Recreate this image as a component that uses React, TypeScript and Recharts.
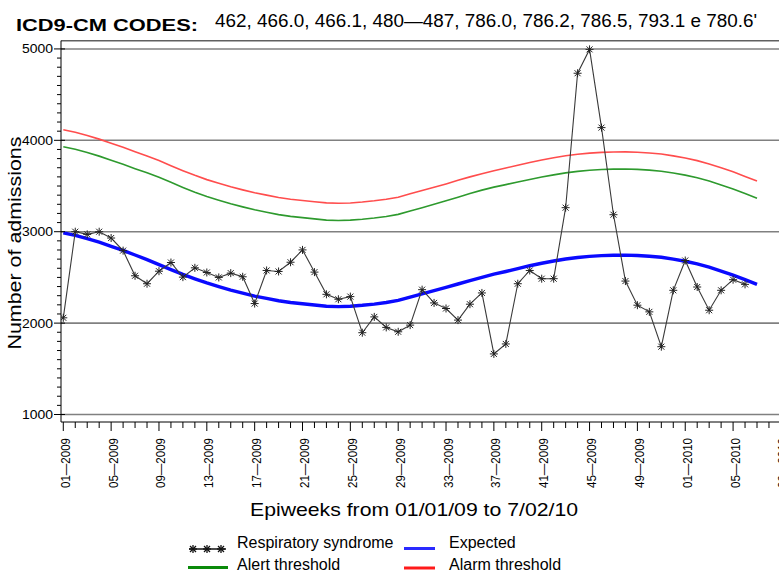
import React from 'react';
import { LineChart, Line, XAxis, YAxis, ReferenceLine } from 'recharts';

// Epiweek index (0 = 01-2009)
const respiratory = [
  2058, 3000, 2971, 3000, 2931, 2793, 2518, 2431, 2568, 2663,
  2503, 2605, 2554, 2500, 2547, 2507, 2214, 2576, 2565, 2666,
  2801, 2558, 2315, 2261, 2290, 1895, 2068, 1953, 1905, 1978,
  2366, 2221, 2160, 2033, 2207, 2330, 1663, 1772, 2431, 2576,
  2486, 2486, 3263, 4734, 4995, 4139, 3186, 2460, 2196, 2123,
  1742, 2359, 2685, 2395, 2141, 2359, 2475, 2424,
];

const expected = [
  2988, 2960, 2925, 2885, 2840, 2795, 2745, 2695, 2640, 2585,
  2533, 2485, 2440, 2400, 2362, 2328, 2296, 2270, 2245, 2226,
  2212, 2198, 2185, 2180, 2185, 2195, 2208, 2225, 2248, 2285,
  2320, 2355, 2390, 2428, 2465, 2500, 2535, 2565, 2597, 2628,
  2655, 2680, 2702, 2718, 2730, 2738, 2743, 2744, 2740, 2732,
  2720, 2700, 2677, 2648, 2612, 2570, 2525, 2475, 2424,
];

const alertThreshold = [
  3930, 3902, 3867, 3827, 3782, 3737, 3690, 3645, 3595, 3540,
  3485, 3432, 3385, 3345, 3306, 3272, 3240, 3212, 3187, 3168,
  3154, 3140, 3127, 3122, 3127, 3137, 3150, 3167, 3190, 3227,
  3262, 3300, 3338, 3378, 3418, 3455, 3488, 3515, 3545, 3572,
  3598, 3622, 3644, 3660, 3672, 3680, 3685, 3686, 3682, 3674,
  3662, 3642, 3619, 3590, 3554, 3512, 3467, 3417, 3366,
];

const alarmThreshold = [
  4115, 4088, 4053, 4013, 3968, 3923, 3875, 3828, 3778, 3722,
  3668, 3617, 3570, 3530, 3492, 3458, 3426, 3400, 3375, 3356,
  3342, 3328, 3316, 3311, 3315, 3325, 3338, 3355, 3378, 3415,
  3450, 3487, 3523, 3562, 3600, 3635, 3668, 3697, 3728, 3758,
  3785, 3810, 3832, 3848, 3860, 3868, 3873, 3874, 3870, 3862,
  3850, 3830, 3807, 3778, 3742, 3700, 3655, 3605, 3554,
];

const labelWeeks = [0, 4, 8, 12, 16, 20, 24, 28, 32, 36, 40, 44, 48, 52, 56, 60];
const tickLabels = [
  '01—2009', '05—2009', '09—2009', '13—2009', '17—2009', '21—2009', '25—2009', '29—2009',
  '33—2009', '37—2009', '41—2009', '45—2009', '49—2009', '01—2010', '05—2010', '09—2010',
];
const allWeeks = Array.from({ length: 70 }, (_, i) => i);

const yMajor = [1000, 2000, 3000, 4000, 5000];
const yTicks = Array.from({ length: 41 }, (_, i) => 1000 + i * 100);

const rows = expected.map((e, i) => ({
  week: i,
  expected: e,
  alert: alertThreshold[i],
  alarm: alarmThreshold[i],
  resp: i < respiratory.length ? respiratory[i] : null,
}));

const FONT = '"Liberation Sans", Arial, sans-serif';

const YTick = (props: any) => {
  const { x, y, payload } = props;
  const v = payload.value;
  const major = v % 1000 === 0;
  return (
    <g>
      <line x1={major ? x - 7 : x - 4} x2={major ? x + 4 : x} y1={y} y2={y} stroke="#000" strokeWidth={1} />
      {major && (
        <text x={x - 8} y={y} dy={4.5} textAnchor="end" fontSize={12.5} fontFamily={FONT}
          textLength={31} lengthAdjust="spacingAndGlyphs" fill="#000">{v}</text>
      )}
    </g>
  );
};

const XTick = (props: any) => {
  const { x, y, payload } = props;
  const w = payload.value;
  const idx = labelWeeks.indexOf(w);
  const major = idx >= 0;
  return (
    <g>
      <line x1={x} x2={x} y1={y} y2={y + (major ? 9 : 6)} stroke="#000" strokeWidth={1} />
      {major && (
        <text transform={`translate(${x + 6.5},${y + 16}) rotate(-90)`} textAnchor="end"
          fontSize={13} fontFamily={FONT} textLength={50} lengthAdjust="spacingAndGlyphs" fill="#000">
          {tickLabels[idx]}
        </text>
      )}
    </g>
  );
};

const Star = (props: any) => {
  const { cx, cy } = props;
  if (cx == null || cy == null || props.value == null) return <g />;
  return (
    <g stroke="#222" strokeWidth={1}>
      <line x1={cx} y1={cy - 4} x2={cx} y2={cy + 4} />
      <line x1={cx - 4} y1={cy} x2={cx + 4} y2={cy} />
      <line x1={cx - 3} y1={cy - 3} x2={cx + 3} y2={cy + 3} />
      <line x1={cx - 3} y1={cy + 3} x2={cx + 3} y2={cy - 3} />
    </g>
  );
};

const LegendStar = ({ cx, cy }: { cx: number; cy: number }) => (
  <g stroke="#111" strokeWidth={1.3}>
    <line x1={cx} y1={cy - 4} x2={cx} y2={cy + 4} />
    <line x1={cx - 4} y1={cy} x2={cx + 4} y2={cy} />
    <line x1={cx - 3} y1={cy - 3} x2={cx + 3} y2={cy + 3} />
    <line x1={cx - 3} y1={cy + 3} x2={cx + 3} y2={cy - 3} />
  </g>
);

export default function App() {
  return (
    <div style={{ position: 'absolute', left: 0, top: 0, width: 779, height: 573, overflow: 'hidden', background: '#fff' }}>
      <LineChart width={900} height={573} data={rows} margin={{ top: 40.7, right: 10, bottom: 51, left: 0 }}>
        <XAxis dataKey="week" type="number" domain={[-0.192, 69.12]} ticks={allWeeks} interval={0}
          tick={<XTick />} tickLine={false} tickSize={0} tickMargin={0} height={100}
          axisLine={{ stroke: '#000', strokeWidth: 1 }} allowDataOverflow />
        <YAxis type="number" domain={[918, 5090]} ticks={yTicks} interval={0} tick={<YTick />}
          tickLine={false} tickSize={0} tickMargin={0} width={61}
          axisLine={{ stroke: '#000', strokeWidth: 1 }} allowDataOverflow />
        {yMajor.map((v) => (
          <ReferenceLine key={v} y={v} stroke="#808080" strokeWidth={1.6} />
        ))}
        <ReferenceLine y={5090} stroke="#606060" strokeWidth={1.4} />
        <Line dataKey="alarm" stroke="#ff4d4d" strokeWidth={1.6} dot={false} isAnimationActive={false} type="linear" />
        <Line dataKey="alert" stroke="#2e9a2e" strokeWidth={1.6} dot={false} isAnimationActive={false} type="linear" />
        <Line dataKey="expected" stroke="#0a0aff" strokeWidth={3.4} dot={false} isAnimationActive={false} type="linear" />
        <Line dataKey="resp" stroke="#3a3a3a" strokeWidth={1.1} dot={<Star />} isAnimationActive={false} type="linear" connectNulls={false} />
      </LineChart>
      <svg style={{ position: 'absolute', left: 0, top: 0 }} width={779} height={573}>
        <text x={16} y={31} fontSize={17} fontWeight="bold" fontFamily={FONT} textLength={182}
          lengthAdjust="spacingAndGlyphs">ICD9-CM CODES:</text>
        <text x={215} y={27} fontSize={17.5} fontFamily={FONT} textLength={542}
          lengthAdjust="spacingAndGlyphs">462, 466.0, 466.1, 480—487, 786.0, 786.2, 786.5, 793.1 e 780.6'</text>
        <text transform="translate(21,243) rotate(-90)" textAnchor="middle" fontSize={19} fontFamily={FONT}
          textLength={213} lengthAdjust="spacingAndGlyphs">Number of admissions</text>
        <text x={414} y={516} textAnchor="middle" fontSize={19} fontFamily={FONT} textLength={328}
          lengthAdjust="spacingAndGlyphs">Epiweeks from 01/01/09 to 7/02/10</text>
        {/* legend */}
        <line x1={189} x2={226} y1={549} y2={549} stroke="#111" strokeWidth={1.3} />
        <LegendStar cx={193} cy={549} />
        <LegendStar cx={207} cy={549} />
        <LegendStar cx={221} cy={549} />
        <text x={237} y={548} fontSize={16} fontFamily={FONT}>Respiratory syndrome</text>
        <line x1={404} x2={435} y1={548.5} y2={548.5} stroke="#2a2aff" strokeWidth={3} />
        <text x={449} y={548} fontSize={16} fontFamily={FONT}>Expected</text>
        <line x1={188} x2={228} y1={567.5} y2={567.5} stroke="#0a8a0a" strokeWidth={3} />
        <text x={237} y={570} fontSize={16} fontFamily={FONT}>Alert threshold</text>
        <line x1={404} x2={435} y1={568} y2={568} stroke="#ff1a1a" strokeWidth={3} />
        <text x={449} y={570} fontSize={16} fontFamily={FONT}>Alarm threshold</text>
      </svg>
    </div>
  );
}
